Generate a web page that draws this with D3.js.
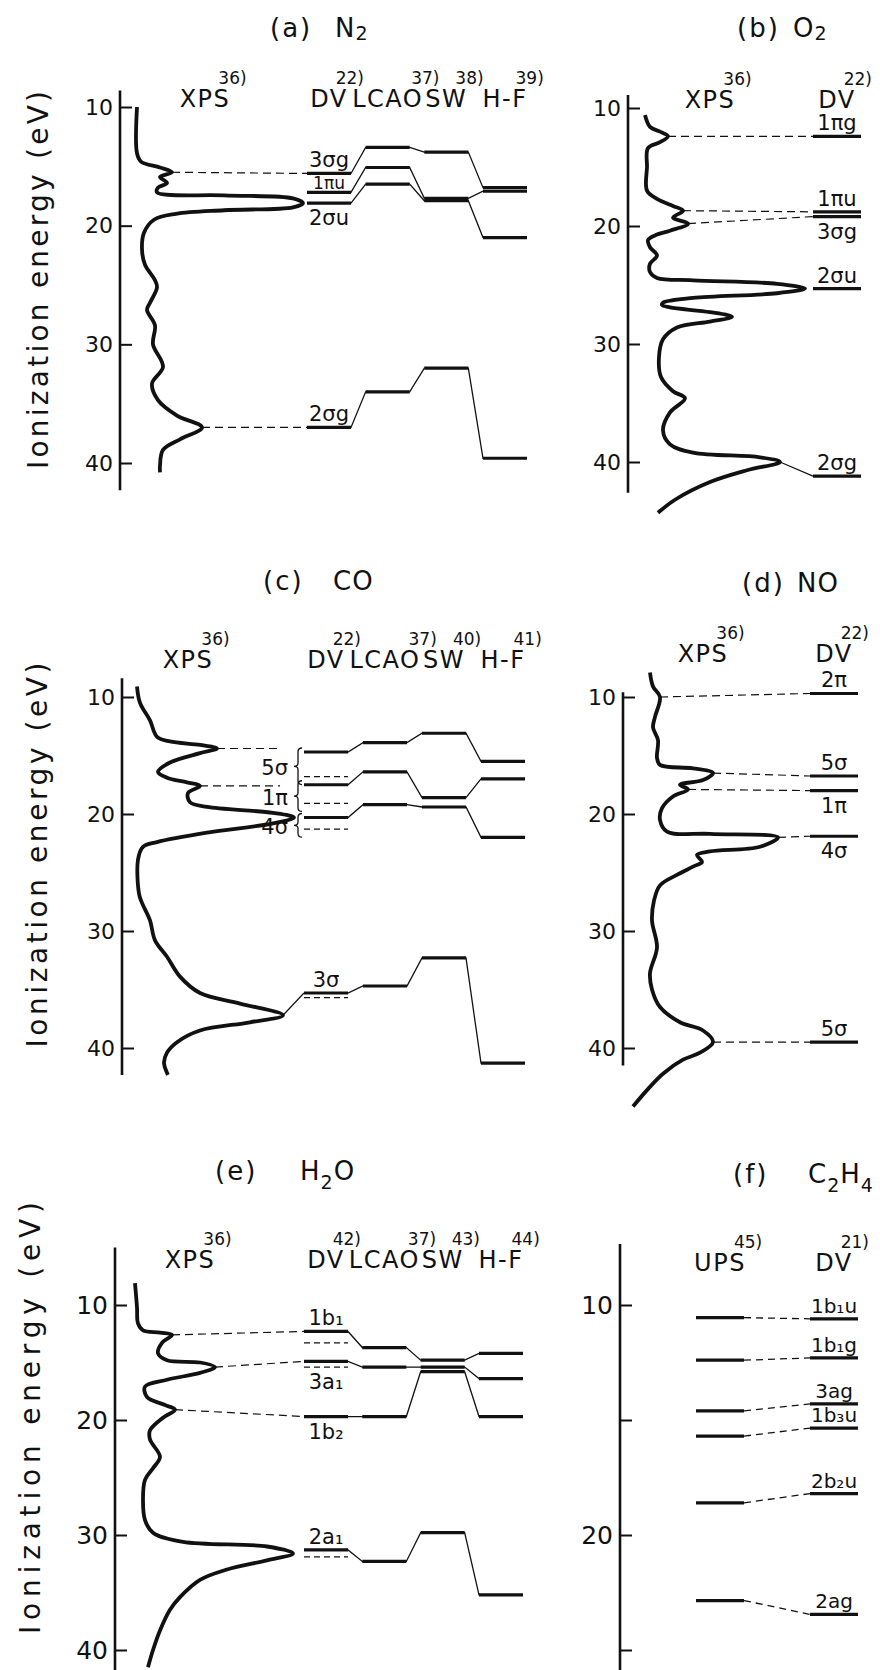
<!DOCTYPE html>
<html>
<head>
<meta charset="utf-8">
<script src="https://cdn.jsdelivr.net/npm/d3@7"></script>
<style>
  body { margin: 0; background: #fff; }
  text { font-family: "DejaVu Sans", sans-serif; fill: #111; }
</style>
</head>
<body>
<svg id="fig" width="880" height="1670"></svg>
<script>
// ---------- data (energies in eV, spectrum intensity in arbitrary units) ----------
const calcMethods = ['DV', 'LCAO', 'SW', 'H-F'];

// (a) N2
const n2Refs = ['22)', '37)', '38)', '39)'];
const n2Orbitals = ['3σg', '1πu', '2σu', '2σg'];
const n2Side = ['up', 'up', 'down', 'up'];
const n2DV = [15.6, 17.2, 18.1, 37.0];
const n2LCAO = [13.4, 15.1, 16.5, 34.0];
const n2SW = [13.8, 17.7, 17.9, 32.0];
const n2HF = [16.8, 17.1, 21.0, 39.6];
const n2XpsE = [10, 13.9, 14.6, 15.1, 15.5, 15.9, 16.4, 16.8, 17.2, 17.45, 17.7, 18.1, 18.45, 18.7, 19.0, 19.5, 20.6, 22.0, 23.3, 24.6, 25.2, 26.5, 27.1, 28.4, 30.0, 31.9, 33.3, 34.7, 36.0, 37.0, 38.0, 38.9, 40.2, 40.8];
const n2XpsI = [8.5, 8.5, 10.5, 20, 26, 20, 23.5, 19, 18.5, 52, 86.5, 91.5, 86.5, 52, 28, 17, 12, 11, 12.5, 17.5, 18.5, 15, 13.5, 17.5, 16.5, 21.5, 16, 19, 28.5, 41, 30, 21.5, 20, 20];
const n2LinkE = [15.5, 37.0];
const n2LinkI = [26, 41];
const n2LinkTo = [0, 3];
const n2LinkDash = [true, true];

// (b) O2
const o2Orbitals = ['1πg', '1πu', '3σg', '2σu', '2σg'];
const o2Side = ['up', 'up', 'down', 'up', 'up'];
const o2DV = [12.4, 18.8, 19.2, 25.3, 41.2];
const o2XpsE = [10.6, 11.6, 12.0, 12.4, 12.9, 13.4, 15.0, 17.0, 17.7, 18.3, 18.7, 19.3, 19.8, 20.4, 20.8, 21.2, 21.8, 22.5, 23.2, 23.9, 24.4, 24.6, 24.9, 25.3, 25.7, 26.1, 26.5, 26.7, 26.9, 27.3, 27.7, 28.1, 28.6, 29.6, 31.1, 32.8, 34.0, 34.6, 35.8, 37.3, 38.5, 39.2, 39.6, 40.0, 40.7, 41.7, 43.2, 44.3];
const o2XpsI = [8.5, 11, 16, 20, 16, 10, 9.5, 9.5, 14.5, 22.5, 27.5, 22.5, 30, 21, 13.5, 10, 11, 14.5, 11, 11, 14.5, 32.5, 74.5, 88.5, 74.5, 32.5, 17.5, 17, 21, 41, 52, 41, 24.5, 17.5, 15.5, 16.5, 22.5, 28.5, 21, 17.5, 21, 32.5, 66, 76, 59.5, 41, 23.5, 15];
const o2LinkE = [12.4, 18.7, 19.8, 40.0];
const o2LinkI = [20, 27.5, 30, 76];
const o2LinkTo = [0, 1, 2, 4];
const o2LinkDash = [true, true, true, false];

// (c) CO
const coRefs = ['22)', '37)', '40)', '41)'];
const coOrbitals = ['5σ', '1π', '4σ', '3σ'];
const coSide = ['brace', 'brace', 'brace', 'up'];
const coDV = [14.7, 17.5, 20.3, 35.3];
const coDVdash = [16.8, 19.1, 21.3, 35.7];
const coLCAO = [13.9, 16.4, 19.2, 34.7];
const coSW = [13.1, 18.6, 19.4, 32.3];
const coHF = [15.5, 17.0, 22.0, 41.3];
const coXpsE = [9.1, 10.5, 12.0, 13.4, 13.8, 14.1, 14.4, 14.8, 15.6, 16.4, 16.9, 17.3, 17.6, 18.2, 19.0, 19.4, 19.9, 20.3, 20.8, 21.6, 22.4, 22.8, 23.9, 26.8, 27.6, 29.1, 30.8, 32.2, 33.9, 35.3, 36.2, 37.2, 37.8, 38.5, 39.5, 40.4, 41.3, 42.3];
const coXpsI = [7.5, 9, 14, 17.5, 24, 39, 47.5, 39, 24, 18, 22.5, 32.5, 39, 33, 34, 42.5, 75.5, 86, 75.5, 42.5, 17.5, 10.5, 8, 8.5, 10, 14, 16.5, 22.5, 29, 39, 59, 80.5, 64, 39, 27.5, 22.5, 21, 23];
const coLinkE = [14.4, 17.6, 37.2];
const coLinkI = [47.5, 39, 80.5];
const coLinkTo = [0, 1, 3];
const coLinkDash = [true, true, false];

// (d) NO
const noOrbitals = ['2π', '5σ', '1π', '4σ', '5σ'];
const noSide = ['up', 'up', 'down', 'down', 'up'];
const noDV = [9.7, 16.75, 18.0, 21.9, 39.5];
const noXpsE = [7.9, 9.1, 10.0, 11.7, 12.6, 13.7, 15.2, 15.8, 16.1, 16.5, 17.1, 17.5, 17.9, 18.5, 19.5, 20.5, 21.5, 21.7, 22.0, 22.8, 23.2, 23.5, 24.1, 24.5, 25.2, 26.1, 27.4, 29.1, 31.4, 33.6, 35.0, 36.5, 37.8, 38.5, 39.5, 40.4, 41.0, 42.2, 43.6, 45.0];
const noXpsI = [13.5, 15, 18.5, 16, 15, 17.5, 17, 18.5, 35, 45, 40, 28.5, 32.5, 25, 19.5, 18.5, 22, 43.5, 77.5, 68.5, 43.5, 37, 39.5, 35, 27, 18.5, 15.5, 14.5, 17, 13.5, 14.5, 18.5, 28.5, 40, 45, 38.5, 30, 20, 12, 5];
const noLinkE = [10.0, 16.5, 17.9, 22.0, 39.5];
const noLinkI = [18.5, 45, 32.5, 77.5, 45];
const noLinkTo = [0, 1, 2, 3, 4];
const noLinkDash = [true, true, true, true, true];

// (e) H2O
const h2oRefs = ['42)', '37)', '43)', '44)'];
const h2oOrbitals = ['1b₁', '3a₁', '1b₂', '2a₁'];
const h2oSide = ['up', 'down', 'down', 'up'];
const h2oDV = [12.3, 14.9, 19.7, 31.3];
const h2oDVdash = [13.3, 15.4, null, 31.9];
const h2oLCAO = [13.7, 15.4, 19.7, 32.3];
const h2oSW = [14.8, 15.4, 15.8, 29.8];
const h2oHF = [14.2, 16.4, 19.7, 35.2];
const h2oXpsE = [8.1, 10.2, 11.6, 12.2, 12.4, 12.6, 13.3, 14.2, 14.8, 15.0, 15.4, 15.9, 16.5, 17.1, 18.0, 18.7, 19.1, 19.8, 20.9, 21.7, 23.2, 24.2, 25.2, 27.0, 28.7, 29.8, 30.6, 31.0, 31.6, 32.2, 33.0, 33.9, 35.4, 36.5, 38.3, 40.0, 41.5];
const h2oXpsI = [10, 11, 11.5, 14, 22.5, 28.5, 23.5, 21.5, 26, 42.5, 50, 42.5, 26, 15, 16, 25, 30, 24, 17.5, 17.5, 22.5, 19, 15, 14, 15, 19, 34, 76, 89, 76, 56, 42.5, 32.5, 27.5, 22.5, 19, 16.5];
const h2oLinkE = [12.6, 15.4, 19.1];
const h2oLinkI = [28.5, 50, 30];
const h2oLinkTo = [0, 1, 2];
const h2oLinkDash = [true, true, true];

// (f) C2H4
const c2h4Methods = ['UPS', 'DV'];
const c2h4Refs = ['45)', '21)'];
const c2h4Orbitals = ['1b₁u', '1b₁g', '3ag', '1b₃u', '2b₂u', '2ag'];
const c2h4Side = ['up', 'up', 'up', 'up', 'up', 'up'];
const c2h4UPS = [10.55, 12.4, 14.6, 15.7, 18.6, 22.85];
const c2h4DV = [10.6, 12.3, 14.3, 15.35, 18.2, 23.45];

// ---------- layout ----------
const ink = '#111';
const panels = [
  { key: 'a', title: '(a)', mol: ['N', '2'], sub: 3, tx: [270, 335], ty: 37,
    axisX: 120, dom: [10, 40], yr: [107, 463], ext: [8.6, 42.3], ticks: [10, 20, 30, 40], tickFont: 22,
    ylab: { x: 38, y: 280, len: 378 }, hy: 107, specHx: 205,
    xpsE: n2XpsE, xpsI: n2XpsI, methods: calcMethods, refs: n2Refs, cols: [329, 505], half: 22,
    orbitals: n2Orbitals, side: n2Side, levels: [n2DV, n2LCAO, n2SW, n2HF], tight: { 1: 17 },
    links: { E: n2LinkE, I: n2LinkI, to: n2LinkTo, dash: n2LinkDash } },
  { key: 'b', title: '(b)', mol: ['O', '2'], sub: 3, tx: [737, 793], ty: 37,
    axisX: 628, dom: [10, 40], yr: [108, 462], ext: [8.9, 42.6], ticks: [10, 20, 30, 40], tickFont: 22,
    hy: 108, specHx: 710,
    xpsE: o2XpsE, xpsI: o2XpsI, methods: ['DV'], refs: ['22)'], cols: [837, 837], half: 24,
    orbitals: o2Orbitals, side: o2Side, levels: [o2DV],
    links: { E: o2LinkE, I: o2LinkI, to: o2LinkTo, dash: o2LinkDash } },
  { key: 'c', title: '(c)', mol: ['CO'], tx: [263, 333], ty: 590,
    axisX: 122, dom: [10, 40], yr: [697, 1048], ext: [8.4, 42.3], ticks: [10, 20, 30, 40], tickFont: 22,
    ylab: { x: 37, y: 855, len: 385 }, hy: 668, specHx: 188,
    xpsE: coXpsE, xpsI: coXpsI, methods: calcMethods, refs: coRefs, cols: [326, 503], half: 22,
    orbitals: coOrbitals, side: coSide, levels: [coDV, coLCAO, coSW, coHF], alt: coDVdash, braceX: 298,
    links: { E: coLinkE, I: coLinkI, to: coLinkTo, dash: coLinkDash } },
  { key: 'd', title: '(d)', mol: ['NO'], tx: [742, 797], ty: 592,
    axisX: 623, dom: [10, 40], yr: [697, 1048], ext: [9.6, 41.5], ticks: [10, 20, 30, 40], tickFont: 22,
    hy: 662, specHx: 703,
    xpsE: noXpsE, xpsI: noXpsI, methods: ['DV'], refs: ['22)'], cols: [834, 834], half: 24,
    orbitals: noOrbitals, side: noSide, levels: [noDV],
    links: { E: noLinkE, I: noLinkI, to: noLinkTo, dash: noLinkDash } },
  { key: 'e', title: '(e)', mol: ['H', '2', 'O'], sub: 9, tx: [215, 300], ty: 1180,
    axisX: 115, dom: [10, 40], yr: [1305, 1650], ext: [5.0, 41.8], ticks: [10, 20, 30, 40], tickFont: 25,
    ylab: { x: 30, y: 1418, len: 432 }, hy: 1268, specHx: 190,
    xpsE: h2oXpsE, xpsI: h2oXpsI, methods: calcMethods, refs: h2oRefs, cols: [326, 501], half: 22,
    orbitals: h2oOrbitals, side: h2oSide, levels: [h2oDV, h2oLCAO, h2oSW, h2oHF], alt: h2oDVdash,
    links: { E: h2oLinkE, I: h2oLinkI, to: h2oLinkTo, dash: h2oLinkDash } },
  { key: 'f', title: '(f)', mol: ['C', '2', 'H', '4'], sub: 9, tx: [733, 808], ty: 1183,
    axisX: 620, dom: [10, 20], yr: [1305, 1535], ext: [7.35, 26.0], ticks: [10, 15, 20, 25], tickFont: 25,
    hy: 1271, methods: c2h4Methods, refs: c2h4Refs, cols: [720, 834], half: 24, connDash: true, labelCol: 1,
    orbitals: c2h4Orbitals, side: c2h4Side, levels: [c2h4UPS, c2h4DV] }
];

const svg = d3.select('#fig');
svg.append('rect').attr('width', 880).attr('height', 1670).attr('fill', '#fff');

function header(g, word, ref, cx, by) {
  const t = g.append('text')
    .attr('x', cx).attr('y', by)
    .attr('text-anchor', 'middle')
    .attr('font-size', 24)
    .attr('letter-spacing', 1.5)
    .text(word);
  const w = t.node().getComputedTextLength();
  g.append('text')
    .attr('x', cx + w / 2 - 12).attr('y', by - 23)
    .attr('font-size', 17)
    .text(ref);
}

function brace(x, y1, y2) {
  const m = (y1 + y2) / 2;
  return `M${x + 4},${y1} Q${x},${y1} ${x},${y1 + 4} L${x},${m - 3} Q${x},${m} ${x - 4},${m} ` +
         `Q${x},${m} ${x},${m + 3} L${x},${y2 - 4} Q${x},${y2} ${x + 4},${y2}`;
}

function drawPanel(p) {
  const g = svg.append('g').attr('class', 'panel-' + p.key);
  const y = d3.scaleLinear().domain(p.dom).range(p.yr);
  const x = d3.scaleLinear().domain([0, 100]).range([p.axisX, p.axisX + 200]);
  const colX = d3.scalePoint().domain(p.methods).range(p.cols);
  const labelCol = p.labelCol || 0;
  const dvX = colX(p.methods[labelCol]);

  // title, digits drawn small and lowered
  g.append('text').attr('x', p.tx[0]).attr('y', p.ty).attr('font-size', 26).attr('letter-spacing', 2).text(p.title);
  const mt = g.append('text').attr('x', p.tx[1]).attr('y', p.ty).attr('font-size', 26).attr('letter-spacing', 1);
  p.mol.forEach(part => {
    const isNum = /^\d$/.test(part);
    mt.append('tspan')
      .attr('font-size', isNum ? 19 : 26)
      .attr('dy', isNum ? p.sub : (p.sub ? -p.sub : 0) * (mt.selectAll('tspan').size() > 1 ? 1 : 0))
      .text(part);
  });

  // energy axis
  g.append('line')
    .attr('x1', p.axisX).attr('x2', p.axisX)
    .attr('y1', y(p.ext[0])).attr('y2', y(p.ext[1]))
    .attr('stroke', ink).attr('stroke-width', 2.6);
  const ax = g.append('g')
    .attr('transform', `translate(${p.axisX},0)`)
    .call(d3.axisLeft(y).tickValues(p.ticks)
      .tickFormat(d => d % 10 === 0 ? d : '')
      .tickSizeInner(-12).tickSizeOuter(0).tickPadding(7));
  ax.select('.domain').remove();
  ax.attr('font-family', null).attr('font-size', p.tickFont);
  ax.selectAll('line').attr('stroke', ink).attr('stroke-width', 2);

  if (p.ylab) {
    g.append('text')
      .attr('transform', `translate(${p.ylab.x},${p.ylab.y}) rotate(-90)`)
      .attr('text-anchor', 'middle')
      .attr('dy', '0.35em')
      .attr('font-size', 28)
      .attr('textLength', p.ylab.len)
      .attr('lengthAdjust', 'spacing')
      .text('Ionization energy (eV)');
  }

  // measured spectrum
  if (p.xpsE) {
    header(g, 'XPS', '36)', p.specHx, p.hy);
    const pts = p.xpsE.map((e, i) => ({ e, v: p.xpsI[i] }));
    g.append('path').datum(pts)
      .attr('d', d3.line().x(d => x(d.v)).y(d => y(d.e)).curve(d3.curveCatmullRom.alpha(0.5)))
      .attr('fill', 'none').attr('stroke', ink)
      .attr('stroke-width', 3.8).attr('stroke-linejoin', 'round');
  }

  // column headers
  p.methods.forEach((m, j) => header(g, m, p.refs[j], colX(m), p.hy));

  // level diagram
  p.orbitals.forEach((name, k) => {
    const vals = p.levels.map(arr => arr[k]);
    const pts = [];
    vals.forEach((v, j) => {
      const cx = colX(p.methods[j]);
      pts.push([cx - p.half, y(v)], [cx + p.half, y(v)]);
    });
    if (vals.length > 1) {
      g.append('path')
        .attr('d', d3.line()(p.connDash ? pts.slice(1, 3) : pts))
        .attr('fill', 'none').attr('stroke', ink)
        .attr('stroke-width', 1.3)
        .attr('stroke-dasharray', p.connDash ? '7,5' : null);
    }
    g.selectAll(null).data(vals).join('line')
      .attr('x1', (v, j) => colX(p.methods[j]) - p.half)
      .attr('x2', (v, j) => colX(p.methods[j]) + p.half)
      .attr('y1', v => y(v)).attr('y2', v => y(v))
      .attr('stroke', ink).attr('stroke-width', 3.2);

    // second (dashed) DV value
    const alt = p.alt ? p.alt[k] : null;
    if (alt != null) {
      g.append('line')
        .attr('x1', dvX - p.half).attr('x2', dvX + p.half)
        .attr('y1', y(alt)).attr('y2', y(alt))
        .attr('stroke', ink).attr('stroke-width', 1.3).attr('stroke-dasharray', '6,4');
    }

    // orbital label
    const lv = vals[labelCol];
    const side = p.side[k];
    const fs = (p.tight && p.tight[k]) || (p.key === 'f' ? 20 : 21);
    if (side === 'brace') {
      const y1 = y(lv) - 4, y2 = y(alt) + 8;
      g.append('path').attr('d', brace(p.braceX, y1, y2))
        .attr('fill', 'none').attr('stroke', ink).attr('stroke-width', 1.3);
      g.append('text')
        .attr('x', p.braceX - 10).attr('y', (y1 + y2) / 2 + 9)
        .attr('text-anchor', 'end').attr('font-size', fs)
        .text(name);
    } else {
      const base = side === 'up' ? y(lv) - (fs < 20 ? 3 : 6) : y(Math.max(lv, alt || lv)) + 22;
      g.append('text')
        .attr('x', dvX).attr('y', base)
        .attr('text-anchor', 'middle').attr('font-size', fs)
        .text(name);
    }
  });

  // peak-to-level links
  if (p.links) {
    p.links.E.forEach((e, i) => {
      const dash = p.links.dash[i];
      const target = p.levels[0][p.links.to[i]];
      const flat = dash && p.braceX;
      g.append('line')
        .attr('x1', x(p.links.I[i])).attr('y1', y(e))
        .attr('x2', flat ? p.braceX - 18 : dvX - p.half)
        .attr('y2', flat ? y(e) : y(target))
        .attr('stroke', ink).attr('stroke-width', 1.2)
        .attr('stroke-dasharray', dash ? '8,5' : null);
    });
  }
}

panels.forEach(drawPanel);
</script>
</body>
</html>
